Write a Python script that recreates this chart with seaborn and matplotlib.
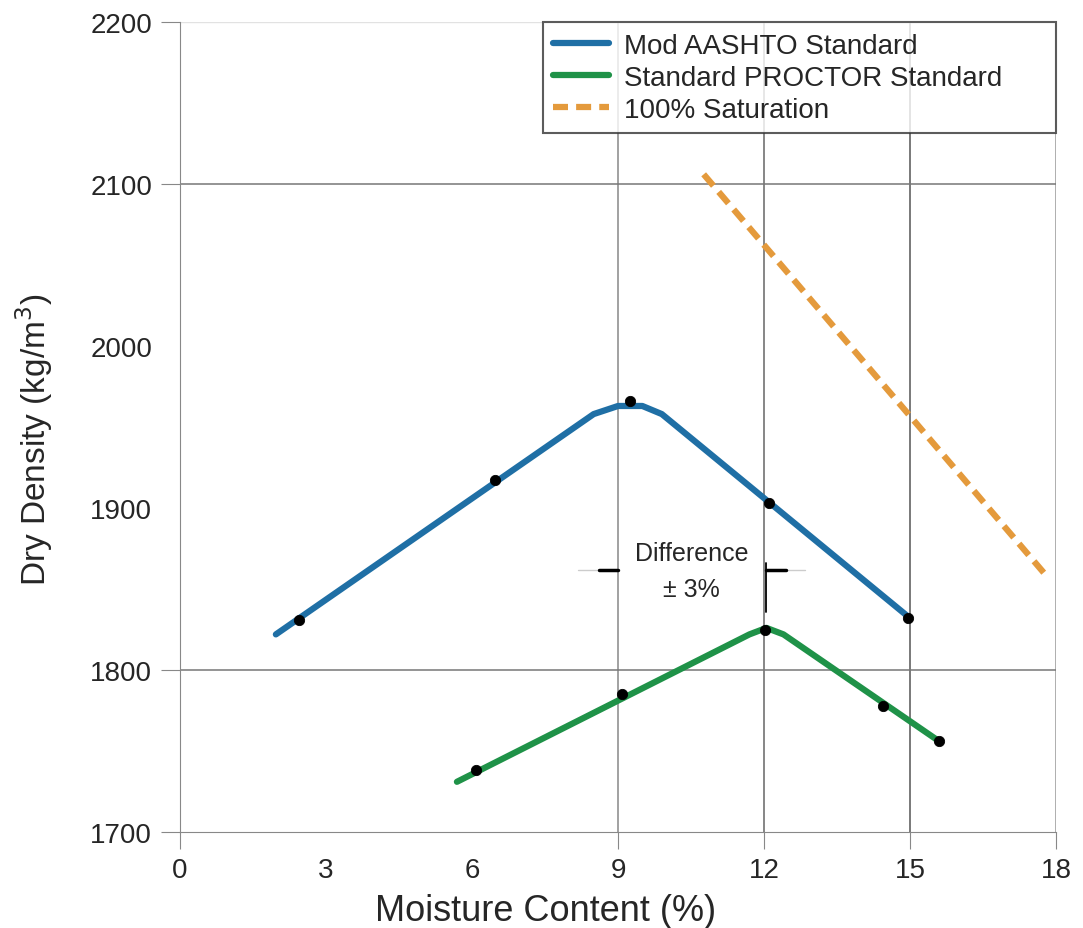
import numpy as np
import pandas as pd
import matplotlib
matplotlib.use('Agg')
import matplotlib.pyplot as plt
import seaborn as sns

# Curve vertices (moisture %, dry density kg/m3)
mod_line_x = [1.97, 8.5, 9.0, 9.5, 9.9, 14.96]
mod_line_y = [1822, 1958, 1963, 1963, 1958, 1833]
std_line_x = [5.69, 11.7, 12.05, 12.4, 15.6]
std_line_y = [1731, 1822, 1826, 1822, 1756]
sat_x = [10.76, 17.75]
sat_y = [2106, 1860]

# Test points
mod_pts_x = [2.44, 6.48, 9.25, 12.11, 14.96]
mod_pts_y = [1831, 1917, 1966, 1903, 1832]
std_pts_x = [6.08, 9.08, 12.02, 14.45, 15.6]
std_pts_y = [1738, 1785, 1825, 1778, 1756]

x_ticks = [0, 3, 6, 9, 12, 15, 18]
y_ticks = [1700, 1800, 1900, 2000, 2100, 2200]

BLUE = '#1f6fa5'
GREEN = '#1f9248'
ORANGE = '#e49a3c'

sns.set_style('white')
plt.rcParams['font.family'] = ['Liberation Sans', 'DejaVu Sans']

fig = plt.figure(figsize=(10.83, 9.29), dpi=100)
ax = fig.add_axes([0.1662, 0.1033, 0.8089, 0.8719])

# Gridlines (only some are drawn in the reference)
for gx, c in [(9, '#888888'), (12, '#666666'), (15, '#555555'), (18, '#999999')]:
    ax.axvline(gx, color=c, lw=1.1, zorder=1)
for gy in [1800, 2100]:
    ax.axhline(gy, color='#777777', lw=1.1, zorder=1)
ax.axhline(2200, color='#e2e2e2', lw=1.0, zorder=1)

df_mod = pd.DataFrame({'x': mod_line_x, 'y': mod_line_y})
df_std = pd.DataFrame({'x': std_line_x, 'y': std_line_y})
df_sat = pd.DataFrame({'x': sat_x, 'y': sat_y})

sns.lineplot(data=df_mod, x='x', y='y', ax=ax, color=BLUE, lw=4.5,
             sort=False, label='Mod AASHTO Standard', zorder=3)
sns.lineplot(data=df_std, x='x', y='y', ax=ax, color=GREEN, lw=4.5,
             sort=False, label='Standard PROCTOR Standard', zorder=3)
sns.lineplot(data=df_sat, x='x', y='y', ax=ax, color=ORANGE, lw=4.5,
             sort=False, label='100% Saturation', zorder=3)
ax.lines[-1].set_dashes([2.4, 1.3])

sns.scatterplot(x=mod_pts_x, y=mod_pts_y, ax=ax, color='black', s=55,
                marker='o', edgecolor='black', zorder=4, legend=False)
sns.scatterplot(x=std_pts_x, y=std_pts_y, ax=ax, color='black', s=55,
                marker='o', edgecolor='black', zorder=4, legend=False)

# Difference annotation
ax.plot([8.18, 8.6], [1862, 1862], color='#cccccc', lw=1, zorder=2)
ax.plot([8.6, 9.0], [1862, 1862], color='black', lw=2.5, zorder=5)
ax.plot([12.04, 12.04], [1836, 1866], color='black', lw=1.3, zorder=5)
ax.plot([12.04, 12.46], [1862, 1862], color='black', lw=2.5, zorder=5)
ax.plot([12.46, 12.84], [1862, 1862], color='#cccccc', lw=1, zorder=2)
ax.text(10.51, 1872, 'Difference', ha='center', va='center', fontsize=18)
ax.text(10.51, 1850, '\u00b1 3%', ha='center', va='center', fontsize=18)

ax.set_xlim(0, 18)
ax.set_ylim(1700, 2200)
ax.set_xticks(x_ticks)
ax.set_yticks(y_ticks)
ax.tick_params(axis='x', labelsize=20, length=12, color='#888888',
               direction='out', bottom=True, pad=6)
ax.tick_params(axis='y', labelsize=20, length=14, color='#888888',
               direction='out', left=True, pad=6)
for tick, v in zip(ax.xaxis.get_major_ticks(), x_ticks):
    if v in (3, 6):
        tick.tick1line.set_visible(False)
for tick, v in zip(ax.yaxis.get_major_ticks(), y_ticks):
    if v in (1900, 2000):
        tick.tick1line.set_visible(False)
ax.set_xlabel('Moisture Content (%)', fontsize=26)
ax.xaxis.set_label_coords(0.417, -0.075)
ax.set_ylabel('Dry Density (kg/m$^3$)', fontsize=24)
ax.yaxis.set_label_coords(-0.143, 0.485)

for side in ['top', 'right']:
    ax.spines[side].set_visible(False)
ax.spines['left'].set_color('#888888')
ax.spines['bottom'].set_color('#888888')

leg = ax.legend(loc='upper left', bbox_to_anchor=(0.414, 1.0, 0.586, 0.0),
                mode='expand', fontsize=20, frameon=True, fancybox=False,
                handlelength=2.0, handletextpad=0.55, borderpad=0.38,
                labelspacing=0.22, borderaxespad=0.0)
leg.get_frame().set_edgecolor('#333333')
leg.get_frame().set_linewidth(1.5)
leg.set_zorder(6)

fig.savefig('out.png', dpi=100)
